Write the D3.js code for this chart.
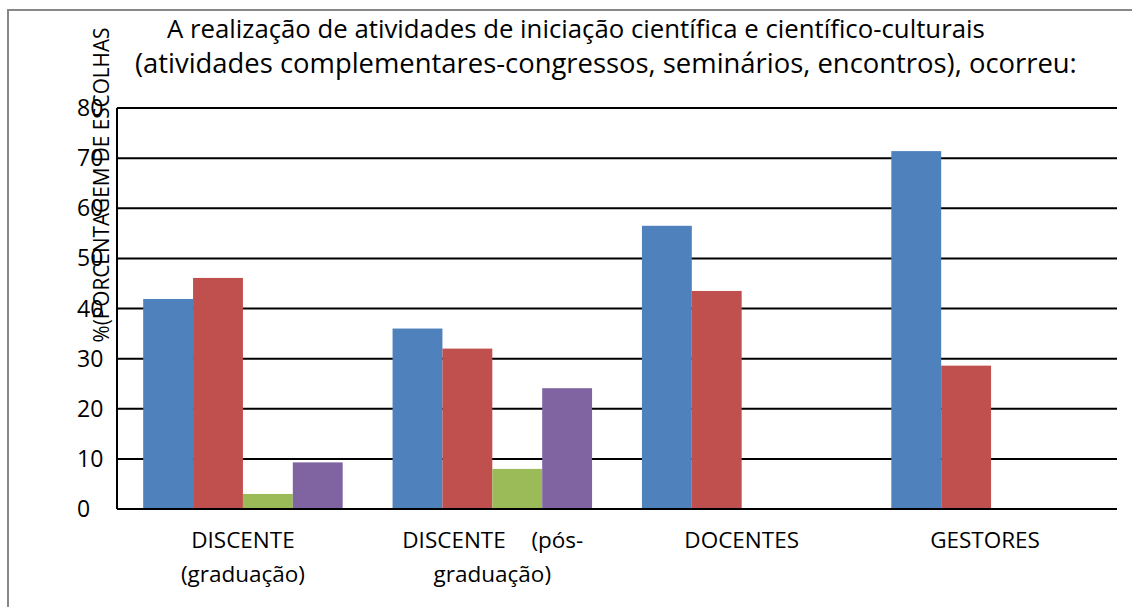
<!DOCTYPE html>
<html>
<head>
<meta charset="utf-8">
<script src="https://cdn.jsdelivr.net/npm/d3@7"></script>
<style>
  html, body { margin: 0; padding: 0; background: #fff; }
  svg { display: block; }
  text { font-family: "Open Sans", "Noto Sans", sans-serif; fill: #000; }
</style>
</head>
<body>
<svg id="chart" width="1132" height="607"></svg>
<script>
// ---- data ----
const categories = ["DISCENTE (graduação)", "DISCENTE (pós-graduação)", "DOCENTES", "GESTORES"];
const seriesNames = ["Série 1", "Série 2", "Série 3", "Série 4"];
const series1 = [41.9, 36.0, 56.5, 71.4];
const series2 = [46.1, 32.0, 43.5, 28.6];
const series3 = [3.0, 8.0, 0, 0];
const series4 = [9.3, 24.1, 0, 0];
const yTicks = [0, 10, 20, 30, 40, 50, 60, 70, 80];
const titleLines = ["A realização de atividades de iniciação científica e científico-culturais",
                    "(atividades complementares-congressos, seminários, encontros), ocorreu:"];
const yAxisLabel = "%(PORCENTAGEM DE ESCOLHAS";
const colors = ["#4F81BD", "#C0504D", "#9BBB59", "#8064A2"];

const allSeries = [series1, series2, series3, series4];

const svg = d3.select("#chart");

// outer border
svg.append("rect")
  .attr("x", 8).attr("y", 10).attr("width", 1140).attr("height", 620)
  .attr("fill", "none").attr("stroke", "#888").attr("stroke-width", 2);

const pLeft = 117, pRight = 1117, pTop = 108, pBottom = 509;

const x0 = d3.scaleBand().domain(categories).range([pLeft, pRight])
  .paddingInner(0.2).paddingOuter(0.105);
const x1 = d3.scaleBand().domain(d3.range(4)).range([0, x0.bandwidth()]);
const y = d3.scaleLinear().domain([0, 80]).range([pBottom, pTop]);

function fitWidth(sel, target) {
  const w = sel.node().getComputedTextLength();
  const fs = parseFloat(sel.attr("font-size"));
  sel.attr("font-size", fs * target / w);
}

// gridlines
svg.append("g").selectAll("line").data(yTicks).join("line")
  .attr("x1", pLeft).attr("x2", pRight)
  .attr("y1", d => y(d)).attr("y2", d => y(d))
  .attr("stroke", "#000").attr("stroke-width", 2);

// bars
const groups = svg.append("g").selectAll("g").data(categories).join("g")
  .attr("transform", d => `translate(${x0(d)},0)`);
groups.selectAll("rect")
  .data((d, i) => allSeries.map((s, k) => ({ k, v: s[i] })))
  .join("rect")
  .attr("x", d => x1(d.k))
  .attr("width", x1.bandwidth())
  .attr("y", d => y(d.v))
  .attr("height", d => y(0) - y(d.v))
  .attr("fill", d => colors[d.k]);

// axis lines
svg.append("line").attr("x1", pLeft).attr("x2", pLeft)
  .attr("y1", pTop).attr("y2", pBottom).attr("stroke", "#000").attr("stroke-width", 2);
svg.append("line").attr("x1", pLeft).attr("x2", pRight)
  .attr("y1", pBottom).attr("y2", pBottom).attr("stroke", "#000").attr("stroke-width", 2);

// y tick labels
svg.append("g").selectAll("text").data(yTicks).join("text")
  .attr("x", 77).attr("y", d => y(d) + 8)
  .attr("font-size", 23)
  .text(d => d);

// y axis label (condensed to mimic a narrow face)
const yl = svg.append("text")
  .attr("text-anchor", "middle")
  .attr("font-size", 22)
  .text(yAxisLabel);
const ylw = yl.node().getComputedTextLength();
yl.attr("transform", `translate(109,185) rotate(-90) scale(${315 / ylw},1)`);

// title
const t1 = svg.append("text").attr("x", 167).attr("y", 38).attr("font-size", 22).text(titleLines[0]);
fitWidth(t1, 818);
const t2 = svg.append("text").attr("x", 135).attr("y", 73).attr("font-size", 22).text(titleLines[1]);
fitWidth(t2, 942);

// category labels
const catFont = 22.5;
function cx(i) { return x0(categories[i]) + x0.bandwidth() / 2; }
svg.append("text").attr("x", cx(0)).attr("y", 548).attr("text-anchor", "middle").attr("font-size", catFont).text("DISCENTE");
svg.append("text").attr("x", cx(0)).attr("y", 582).attr("text-anchor", "middle").attr("font-size", catFont).text("(graduação)");
svg.append("text").attr("x", cx(1) - 90).attr("y", 548).attr("text-anchor", "start").attr("font-size", catFont).text("DISCENTE");
svg.append("text").attr("x", cx(1) + 91).attr("y", 548).attr("text-anchor", "end").attr("font-size", catFont).text("(pós-");
svg.append("text").attr("x", cx(1)).attr("y", 582).attr("text-anchor", "middle").attr("font-size", catFont).text("graduação)");
svg.append("text").attr("x", cx(2)).attr("y", 548).attr("text-anchor", "middle").attr("font-size", catFont).text("DOCENTES");
svg.append("text").attr("x", cx(3) - 6).attr("y", 548).attr("text-anchor", "middle").attr("font-size", catFont).text("GESTORES");
</script>
</body>
</html>
